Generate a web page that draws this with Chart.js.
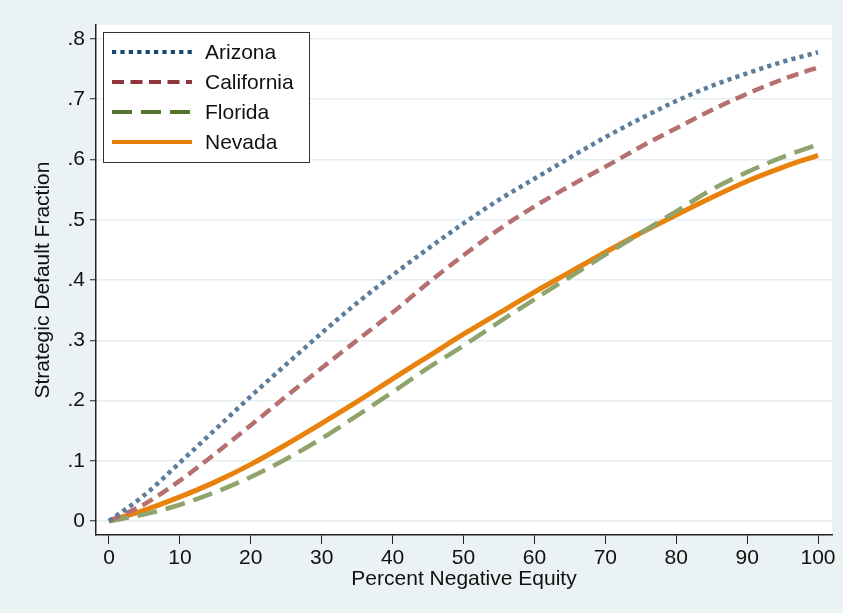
<!DOCTYPE html>
<html>
<head>
<meta charset="utf-8">
<script src="https://cdn.jsdelivr.net/npm/chart.js@4.4.1/dist/chart.umd.min.js"></script>
<style>
  html, body { margin: 0; padding: 0; background: #eaf2f3; }
  #wrap { width: 843px; height: 613px; }
</style>
</head>
<body>
<div id="wrap"><canvas id="c" width="843" height="613"></canvas></div>
<script>
// ---- data ----
const equity = [0, 5, 10, 15, 20, 25, 30, 35, 40, 45, 50, 55, 60, 65, 70, 75, 80, 85, 90, 95, 100];
const arizona    = [0, 0.043, 0.097, 0.152, 0.207, 0.260, 0.312, 0.362, 0.408, 0.452, 0.494, 0.533, 0.568, 0.603, 0.637, 0.668, 0.697, 0.722, 0.743, 0.762, 0.778];
const california = [0, 0.028, 0.067, 0.112, 0.159, 0.207, 0.254, 0.300, 0.346, 0.395, 0.441, 0.484, 0.522, 0.556, 0.588, 0.621, 0.652, 0.682, 0.709, 0.733, 0.753];
const florida    = [0, 0.011, 0.027, 0.048, 0.073, 0.103, 0.137, 0.175, 0.214, 0.254, 0.291, 0.330, 0.368, 0.405, 0.442, 0.478, 0.514, 0.550, 0.579, 0.604, 0.625];
const nevada     = [0, 0.018, 0.040, 0.065, 0.094, 0.127, 0.162, 0.198, 0.236, 0.273, 0.310, 0.345, 0.380, 0.413, 0.446, 0.478, 0.508, 0.537, 0.564, 0.587, 0.607];
const seriesNames = ["Arizona", "California", "Florida", "Nevada"];
const xTicks = [0, 10, 20, 30, 40, 50, 60, 70, 80, 90, 100];
const xTickLabels = ["0", "10", "20", "30", "40", "50", "60", "70", "80", "90", "100"];
const yTicks = [0, 0.1, 0.2, 0.3, 0.4, 0.5, 0.6, 0.7, 0.8];
const yTickLabels = ["0", ".1", ".2", ".3", ".4", ".5", ".6", ".7", ".8"];
const xTitle = "Percent Negative Equity";
const yTitle = "Strategic Default Fraction";

// ---- styles ----
const FONT = "'Liberation Sans', Arial, Helvetica, sans-serif";
const lineColors   = ["#5d7d9c", "#b5706f", "#8ea46c", "#e8820c"];
const legendColors = ["#1a476f", "#90353b", "#55752f", "#e37e00"];
const dashes = [[4.2, 4.2], [12, 6.5], [20, 9], []];
const widths = [4.5, 4.5, 4.5, 5];
const seriesData = [arizona, california, florida, nevada];

const datasets = seriesNames.map((name, i) => ({
  label: name,
  data: equity.map((x, k) => ({x: x, y: seriesData[i][k]})),
  borderColor: lineColors[i],
  borderDash: dashes[i],
  borderWidth: widths[i],
  borderCapStyle: 'butt',
  pointRadius: 0,
  fill: false,
  cubicInterpolationMode: 'monotone',
  order: i
}));

const bgPlugin = {
  id: 'bg',
  beforeDraw(chart) {
    const {ctx, chartArea: a} = chart;
    ctx.save();
    ctx.fillStyle = '#eaf2f3';
    ctx.fillRect(0, 0, chart.width, chart.height);
    ctx.fillStyle = '#ffffff';
    ctx.fillRect(a.left, a.top, a.right - a.left, a.bottom - a.top);
    ctx.restore();
  }
};

const legendPlugin = {
  id: 'boxLegend',
  afterDraw(chart) {
    const ctx = chart.ctx;
    const bx = 103, by = 32, bw = 206, bh = 130;
    ctx.save();
    ctx.fillStyle = '#ffffff';
    ctx.fillRect(bx, by, bw, bh);
    ctx.strokeStyle = '#333333';
    ctx.lineWidth = 1;
    ctx.strokeRect(bx + 0.5, by + 0.5, bw, bh);
    chart.data.datasets.forEach((d, i) => {
      const cy = 52 + i * 30;
      ctx.beginPath();
      ctx.setLineDash(dashes[i]);
      ctx.lineCap = 'butt';
      ctx.strokeStyle = legendColors[i];
      ctx.lineWidth = 4;
      ctx.moveTo(112, cy);
      ctx.lineTo(192, cy);
      ctx.stroke();
      ctx.setLineDash([]);
      ctx.fillStyle = '#111111';
      ctx.font = '21px ' + FONT;
      ctx.textBaseline = 'middle';
      ctx.textAlign = 'left';
      ctx.fillText(d.label, 205, cy + 1);
    });
    ctx.restore();
  }
};

new Chart(document.getElementById('c'), {
  type: 'line',
  data: { datasets: datasets },
  plugins: [bgPlugin, legendPlugin],
  options: {
    responsive: false,
    animation: false,
    devicePixelRatio: 1,
    layout: { padding: { left: 0, top: 25, right: 11, bottom: 0 } },
    plugins: { legend: { display: false }, tooltip: { enabled: false } },
    scales: {
      x: {
        type: 'linear',
        min: -1.83,
        max: 101.97,
        afterFit(s) { s.height = 78; },
        afterBuildTicks(s) { s.ticks = xTicks.map(v => ({value: v})); },
        grid: { display: true, drawOnChartArea: false, drawTicks: true, tickLength: 9, tickColor: '#222222', tickWidth: 1 },
        border: { display: true, color: '#222222', width: 1.5 },
        ticks: {
          autoSkip: false, maxRotation: 0, padding: 2, color: '#111111',
          font: { family: FONT, size: 21 },
          callback(v) { const k = xTicks.indexOf(v); return k >= 0 ? xTickLabels[k] : ''; }
        },
        title: { display: true, text: xTitle, color: '#111111', font: { family: FONT, size: 21 }, padding: { top: 0, bottom: 21 } }
      },
      y: {
        type: 'linear',
        min: -0.0232,
        max: 0.8232,
        afterFit(s) { s.width = 96; },
        afterBuildTicks(s) { s.ticks = yTicks.map(v => ({value: v})); },
        grid: { display: true, drawOnChartArea: true, drawTicks: true, tickLength: 6, color: '#e4edf0', lineWidth: 1.5, tickColor: '#222222', tickWidth: 1 },
        border: { display: true, color: '#222222', width: 1.5 },
        ticks: {
          autoSkip: false, padding: 5, color: '#111111',
          font: { family: FONT, size: 21 },
          callback(v) { const k = yTicks.findIndex(t => Math.abs(t - v) < 1e-9); return k >= 0 ? yTickLabels[k] : ''; }
        },
        title: { display: true, text: yTitle, color: '#111111', font: { family: FONT, size: 21 }, padding: { top: 31, bottom: 0 } }
      }
    }
  }
});
</script>
</body>
</html>
